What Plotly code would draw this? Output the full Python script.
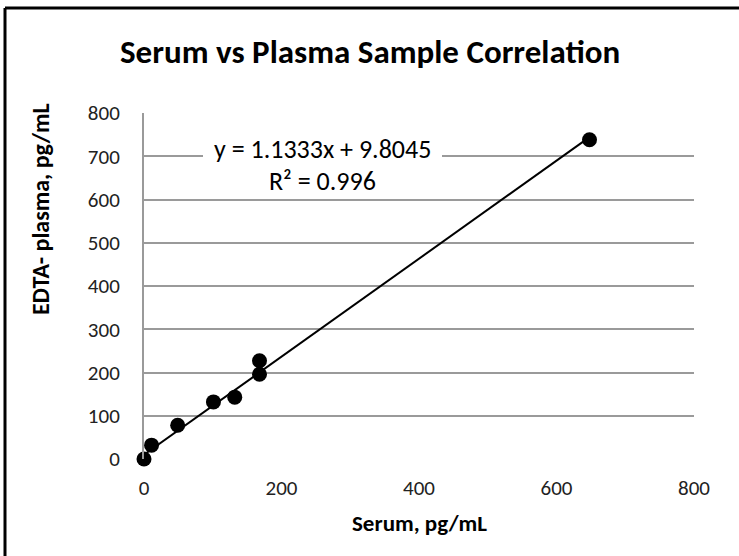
import plotly.graph_objects as go

# Data
serum = [0, 11, 49, 101, 132, 168, 168, 648]
plasma = [0, 32, 78, 132, 143, 196, 227, 738]
slope = 1.1333
intercept = 9.8045
r2 = 0.996
x_ticks = [0, 200, 400, 600, 800]
y_ticks = [0, 100, 200, 300, 400, 500, 600, 700, 800]

W, H = 739, 556
L, R, T, B = 144, 45, 113, 97
PW, PH = W - L - R, H - T - B

def px(x):
    return (x - L) / PW

def py(y):
    return (H - B - y) / PH

FONT = "Carlito, Calibri, Lato, 'Liberation Sans', Arial, sans-serif"

x_line = [min(serum), max(serum)]
y_line = [slope * v + intercept for v in x_line]

fig = go.Figure()
fig.add_trace(go.Scatter(x=x_line, y=y_line, mode="lines",
                         line=dict(color="black", width=2), hoverinfo="skip",
                         cliponaxis=False))
fig.add_trace(go.Scatter(x=serum, y=plasma, mode="markers",
                         marker=dict(color="black", size=15),
                         cliponaxis=False))

fig.update_layout(
    width=W, height=H,
    margin=dict(l=L, r=R, t=T, b=B),
    paper_bgcolor="white", plot_bgcolor="white",
    showlegend=False,
    font=dict(family=FONT, color="#222222", size=18),
    xaxis=dict(range=[0, 800], tickvals=x_ticks, showgrid=False, zeroline=False,
               showline=False, ticks="", ticklabelstandoff=14,
               tickfont=dict(size=21, family=FONT)),
    yaxis=dict(range=[0, 800], tickvals=y_ticks, showgrid=True,
               gridcolor="#9a9a9a", gridwidth=2, zeroline=False,
               showline=True, linecolor="#9a9a9a", linewidth=2,
               ticks="", ticklabelstandoff=18,
               tickfont=dict(size=21, family=FONT)),
    shapes=[
        # white box behind the equation
        dict(type="rect", xref="paper", yref="paper",
             x0=px(203), x1=px(442), y0=py(197), y1=py(130),
             fillcolor="white", line=dict(width=0), layer="above"),
        # chart border (top and left)
        dict(type="line", xref="paper", yref="paper",
             x0=px(5), x1=px(745), y0=py(8), y1=py(8),
             line=dict(color="black", width=3)),
        dict(type="line", xref="paper", yref="paper",
             x0=px(5), x1=px(5), y0=py(8), y1=py(560),
             line=dict(color="black", width=3)),
    ],
    annotations=[
        dict(text="<b>Serum vs Plasma Sample Correlation</b>", xref="paper", yref="paper",
             x=px(370), y=py(52), showarrow=False, xanchor="center", yanchor="middle",
             font=dict(size=33, color="black", family=FONT)),
        dict(text="<b>Serum, pg/mL</b>", xref="paper", yref="paper",
             x=px(419), y=py(523), showarrow=False, xanchor="center", yanchor="middle",
             font=dict(size=23, color="black", family=FONT)),
        dict(text="<b>EDTA- plasma, pg/mL</b>", xref="paper", yref="paper",
             x=px(40), y=py(209), showarrow=False, xanchor="center", yanchor="middle",
             textangle=-90, font=dict(size=24, color="black", family=FONT)),
        dict(text=f"y = {slope}x + {intercept}", xref="paper", yref="paper",
             x=px(322), y=py(149), showarrow=False, xanchor="center", yanchor="middle",
             font=dict(size=26, color="black", family=FONT)),
        dict(text=f"R² = {r2}", xref="paper", yref="paper",
             x=px(322), y=py(181), showarrow=False, xanchor="center", yanchor="middle",
             font=dict(size=26, color="black", family=FONT)),
    ],
)

fig.write_html("out.html", config={"displayModeBar": False},
               post_script="document.body.style.margin='0';document.body.style.padding='0';")
